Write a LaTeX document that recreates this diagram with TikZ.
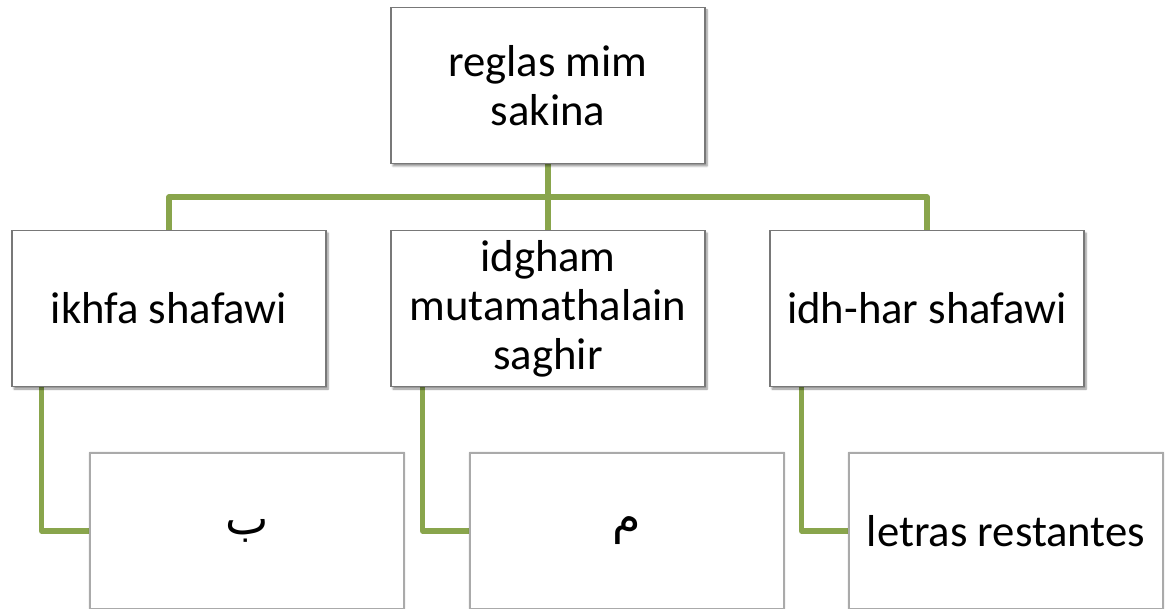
\documentclass[tikz,border=0pt]{standalone}
\usepackage{fontspec}
\setmainfont{Carlito}
\newfontfamily\arabicfont[Script=Arabic]{DejaVu Sans}
\TeXXeTstate=1
\usetikzlibrary{shadows.blur}
\pgfdeclarelayer{links}
\pgfsetlayers{links,main}
\definecolor{linkgreen}{RGB}{137,165,76}
\definecolor{boxline}{RGB}{120,120,120}
\definecolor{leafline}{RGB}{170,170,170}
\tikzset{
  x=1pt, y=-1pt,
  box/.style={draw=boxline, line width=1.1pt, fill=white, rectangle,
    minimum width=314pt, minimum height=156pt, inner sep=0pt,
    align=center, font=\fontsize{44.7}{49}\selectfont,
    blur shadow={shadow xshift=2pt, shadow yshift=-2.5pt, shadow blur steps=6, shadow opacity=45}},
  leaf/.style={box, draw=leafline,
    blur shadow={shadow xshift=0pt, shadow yshift=0pt, shadow blur radius=2pt, shadow blur steps=4, shadow opacity=20}},
  conn/.style={draw=linkgreen, line width=5.2pt, line join=round},
  arab/.style={font=\arabicfont\fontsize{46}{50}\selectfont}
}
\begin{document}
\begin{tikzpicture}
\useasboundingbox (0,0) rectangle (1173,609);
% boxes of the tree
\node[box] (top) at (548,85.5) {reglas mim\\sakina};
\node[box] (b1) at (169,308.5) {ikhfa shafawi};
\node[box] (b2) at (548,308.5) {idgham\\mutamathalain\\saghir};
\node[box] (b3) at (927,308.5) {idh-har shafawi};
\node[leaf] (c1) at (247,531) {\arabicfont\fontsize{46}{50}\selectfont\beginR ب\endR};
\node[leaf] (c2) at (627,531) {\arabicfont\fontsize{46}{50}\selectfont\beginR م\endR};
\node[leaf] (c3) at (1006,531) {letras restantes};
% green links behind the boxes
\begin{pgfonlayer}{links}
  \coordinate (bus) at (548,197);
  \draw[conn] (b1.north) |- (bus) -| (b3.north);
  \draw[conn] (top.south) -- (b2.north);
  \draw[conn] ([xshift=30pt]b1.south west) |- (c1.west);
  \draw[conn] ([xshift=32pt]b2.south west) |- (c2.west);
  \draw[conn] ([xshift=32pt]b3.south west) |- (c3.west);
\end{pgfonlayer}
\end{tikzpicture}
\end{document}
